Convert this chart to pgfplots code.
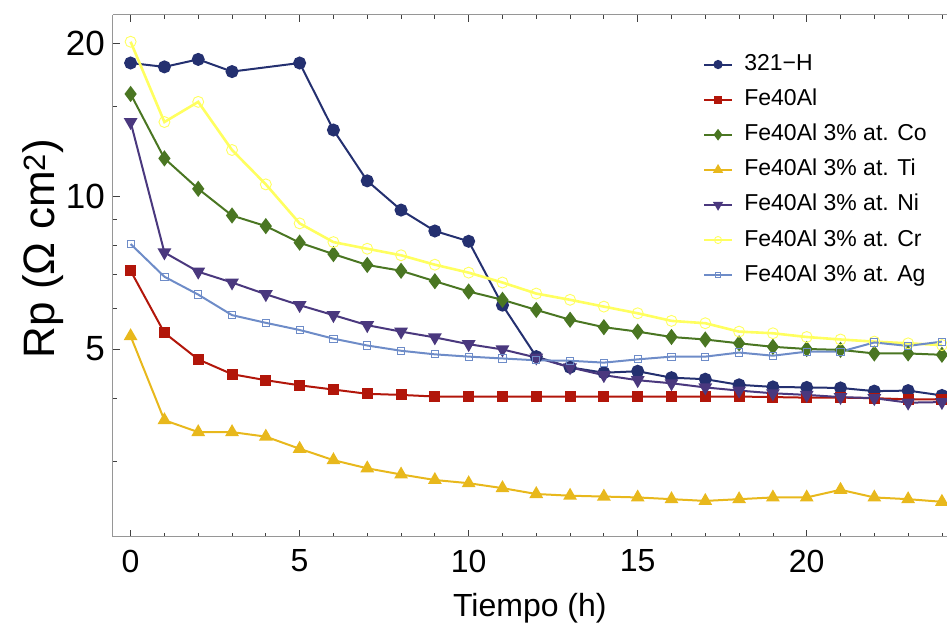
\documentclass[border=0pt]{standalone}
\usepackage{pgfplots}
\pgfplotsset{compat=1.18}
\usepackage{fontspec}
\setmainfont{Liberation Sans}
\definecolor{cNavy}{RGB}{36,48,112}
\definecolor{cRed}{RGB}{178,22,10}
\definecolor{cGreen}{RGB}{74,118,34}
\definecolor{cGold}{RGB}{232,184,28}
\definecolor{cPurple}{RGB}{74,56,126}
\definecolor{cYellow}{RGB}{255,255,95}
\definecolor{cBlue}{RGB}{110,140,200}
\definecolor{cAxis}{RGB}{150,150,150}
\begin{document}
\begin{tikzpicture}
\begin{axis}[
  scale only axis,
  width=834.3bp, height=522bp,
  xmin=-0.53, xmax=24.15,
  ymode=log, ymin=2.134, ymax=22.78,
  axis x line*=box, axis y line*=left,
  axis line style={cAxis, line width=1.2bp},
  xtick={0,5,10,15,20}, xticklabels={0,5,10,15,20},
  minor xtick={1,2,3,4,6,7,8,9,11,12,13,14,16,17,18,19,21,22,23,24},
  ytick={5,10,20}, yticklabels={5,10,20},
  minor ytick={3,4,6,7,8,9,15},
  tick align=inside,
  major tick length=7bp, minor tick length=4bp,
  every tick/.style={black!75, line width=0.8bp},
  xticklabel style={font=\fontsize{32bp}{38bp}\selectfont, inner sep=0pt, anchor=north, yshift=-13bp},
  yticklabel style={font=\fontsize{35bp}{40bp}\selectfont, inner sep=0pt, anchor=east, xshift=-7.7bp},
  xlabel={Tiempo (h)},
  xlabel style={font=\fontsize{32bp}{38bp}\selectfont, at={(axis description cs:0.5,0)}, anchor=base, yshift=-80.3bp, inner sep=0pt},
  ylabel={Rp (Ω cm\textsuperscript{2})},
  ylabel style={font=\fontsize{44bp}{50bp}\selectfont, at={(axis description cs:-0.083,0.552)}, anchor=center, inner sep=0pt},
  legend cell align=left,
  legend style={at={(axis description cs:0.707,0.926)}, anchor=north west, draw=none, fill=none,
    font=\fontsize{23bp}{27bp}\selectfont, inner sep=0pt, row sep=13.1bp,
    nodes={inner sep=0pt, text height=17bp, text depth=5bp},
    /tikz/every odd column/.append style={column sep=11bp}},
  legend image code/.code={\draw[mark repeat=2,mark phase=2,/tikz/every mark/.append style={scale=0.65}] plot coordinates {(0bp,0bp)(14bp,0bp)(28bp,0bp)};},
  every axis plot/.append style={line width=2bp},
]
\coordinate (SW) at (rel axis cs:0,0);
\coordinate (NE) at (rel axis cs:1,1);
% 321-H
\addplot[cNavy, mark=*, mark size=5.5bp, mark options={solid, fill=cNavy}] coordinates {
(0,18.3)(1,17.98)(2,18.6)(3,17.6)(5,18.3)(6,13.5)(7,10.72)(8,9.39)(9,8.54)(10,8.15)
(11,6.10)(12,4.83)(13,4.60)(14,4.49)(15,4.52)(16,4.39)(17,4.36)(18,4.25)(19,4.21)(20,4.20)
(21,4.19)(22,4.13)(23,4.14)(24,4.05)};
\addlegendentry{321−H}
% Fe40Al
\addplot[cRed, mark=square*, mark size=4.5bp, mark options={solid, fill=cRed}] coordinates {
(0,7.13)(1,5.38)(2,4.77)(3,4.46)(4,4.34)(5,4.24)(6,4.16)(7,4.08)(8,4.06)(9,4.03)(10,4.03)
(11,4.03)(12,4.03)(13,4.03)(14,4.03)(15,4.03)(16,4.03)(17,4.03)(18,4.03)(19,4.02)(20,4.01)
(21,4.01)(22,4.00)(23,3.98)(24,3.98)};
\addlegendentry{Fe40Al}
% Co
\addplot[cGreen, mark=diamond*, mark size=6.5bp, mark options={solid, fill=cGreen}] coordinates {
(0,15.9)(1,11.87)(2,10.34)(3,9.16)(4,8.73)(5,8.10)(6,7.69)(7,7.32)(8,7.13)(9,6.80)(10,6.49)
(11,6.25)(12,5.97)(13,5.71)(14,5.52)(15,5.41)(16,5.28)(17,5.22)(18,5.13)(19,5.05)(20,5.00)
(21,4.98)(22,4.90)(23,4.90)(24,4.87)};
\addlegendentry{Fe40Al 3\% at. Co}
% Ti
\addplot[cGold, mark=triangle*, mark size=6bp, mark options={solid, fill=cGold}] coordinates {
(0,5.30)(1,3.62)(2,3.43)(3,3.43)(4,3.36)(5,3.18)(6,3.02)(7,2.91)(8,2.83)(9,2.76)(10,2.72)
(11,2.66)(12,2.59)(13,2.57)(14,2.56)(15,2.55)(16,2.53)(17,2.51)(18,2.53)(19,2.55)(20,2.55)
(21,2.64)(22,2.55)(23,2.53)(24,2.50)};
\addlegendentry{Fe40Al 3\% at. Ti}
% Ni
\addplot[cPurple, mark=triangle*, mark size=6bp, mark options={solid, fill=cPurple, rotate=180}] coordinates {
(0,14.0)(1,7.75)(2,7.10)(3,6.76)(4,6.41)(5,6.10)(6,5.83)(7,5.57)(8,5.41)(9,5.27)(10,5.11)
(11,4.99)(12,4.81)(13,4.60)(14,4.44)(15,4.34)(16,4.28)(17,4.20)(18,4.14)(19,4.09)(20,4.06)
(21,4.02)(22,4.00)(23,3.92)(24,3.93)};
\addlegendentry{Fe40Al 3\% at. Ni}
% Cr
\addplot[cYellow, line width=2.6bp, mark=o, mark size=5.5bp, mark options={solid, line width=0.9bp}] coordinates {
(0,20.15)(1,14.0)(2,15.34)(3,12.33)(4,10.55)(5,8.84)(6,8.12)(7,7.88)(8,7.65)(9,7.33)(10,7.07)
(11,6.76)(12,6.43)(13,6.25)(14,6.06)(15,5.88)(16,5.68)(17,5.62)(18,5.41)(19,5.37)(20,5.28)
(21,5.22)(22,5.17)(23,5.13)(24,5.09)};
\addlegendentry{Fe40Al 3\% at. Cr}
% Ag
\addplot[cBlue, mark=square, mark size=3.6bp, mark options={solid, line width=1bp}] coordinates {
(0,8.05)(1,6.94)(2,6.40)(3,5.83)(4,5.63)(5,5.45)(6,5.24)(7,5.08)(8,4.96)(9,4.88)(10,4.83)
(11,4.79)(12,4.75)(13,4.74)(14,4.70)(15,4.77)(16,4.83)(17,4.83)(18,4.92)(19,4.85)(20,4.94)
(21,4.94)(22,5.15)(23,5.07)(24,5.17)};
\addlegendentry{Fe40Al 3\% at. Ag}
\end{axis}
\pgfresetboundingbox
\path ([shift={(-112.7bp,-93.3bp)}]SW) rectangle ([shift={(0bp,14.7bp)}]NE);
\end{tikzpicture}
\end{document}
